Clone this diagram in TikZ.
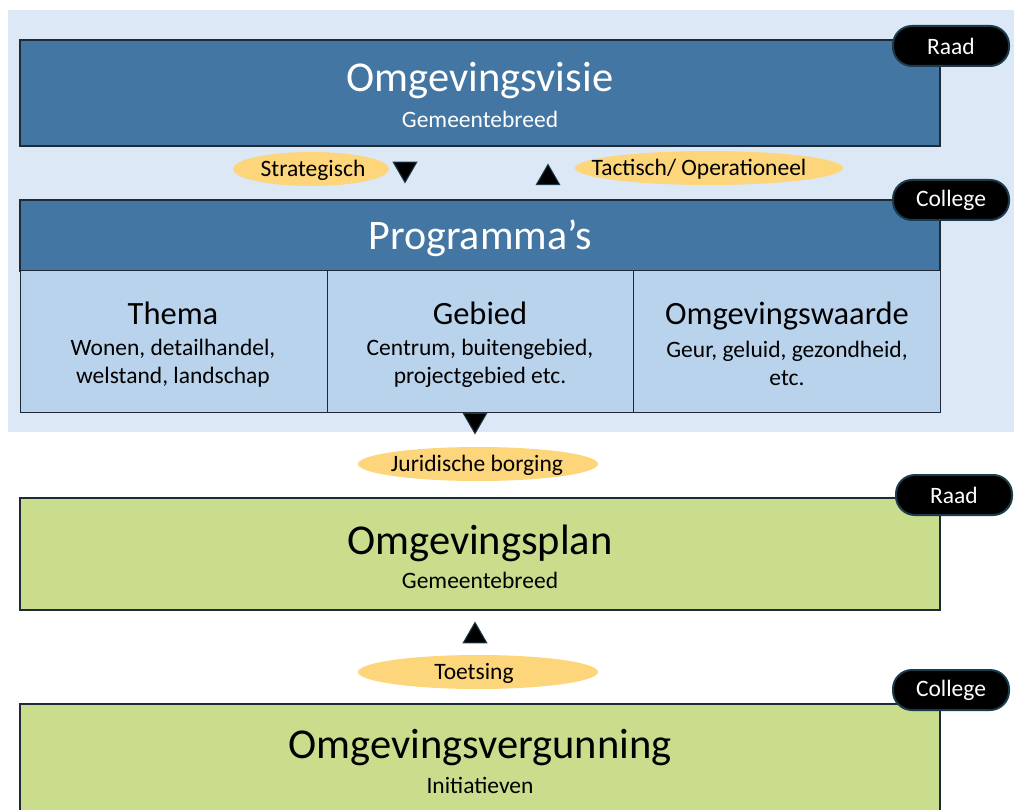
\documentclass[tikz,border=0pt]{standalone}
\usepackage{fontspec}
\setmainfont{Carlito}
\usetikzlibrary{shapes.geometric}
\definecolor{bgblue}{HTML}{DCE8F5}
\definecolor{hdrblue}{HTML}{4376A2}
\definecolor{cellblue}{HTML}{B9D3EC}
\definecolor{plangreen}{HTML}{C9DD8D}
\definecolor{pill}{HTML}{FDD57B}
\definecolor{edge}{HTML}{1E2A36}
\definecolor{badgeedge}{HTML}{1B3A4B}
\tikzset{
  hdr/.style={draw=edge, line width=1.2pt, fill=hdrblue},
  cell/.style={draw=edge, line width=1pt, fill=cellblue},
  grn/.style={draw=edge, line width=1.2pt, fill=plangreen},
  pillfill/.style={fill=pill},
  lbl/.style={inner sep=0pt, font=\fontsize{23.5}{26}\selectfont},
  badge/.style={rounded corners=19pt, fill=black, draw=badgeedge, line width=2pt, minimum width=116pt, minimum height=40pt, text=white, font=\fontsize{23.5}{26}\selectfont, inner sep=0pt},
  tri/.style={regular polygon, regular polygon sides=3, fill=black, draw=badgeedge, line width=1pt, minimum size=27pt, inner sep=0pt},
  big/.style={font=\fontsize{42.5}{46}\selectfont},
  mid/.style={font=\fontsize{32.5}{36}\selectfont, text height=22pt, text depth=7pt},
  small/.style={font=\fontsize{23.5}{28}\selectfont, align=center}
}
\begin{document}
\begin{tikzpicture}[x=1pt,y=-1pt]
\useasboundingbox (0,0) rectangle (1014,810);
\fill[bgblue] (8,10) rectangle (1014,432);
% Omgevingsvisie
\draw[hdr] (20,40) rectangle (940,146);
\node[big, text=white] (visie) at (480,81) {Omgevingsvisie};
\node[small, text=white] (visiesub) at (480,119) {Gemeentebreed};
\node[badge] (raad1) at (951,46) {Raad};
% labels between
\fill[pillfill] (311,169) ellipse (78 and 17);
\node[lbl] (strat) at (313,170) {Strategisch};
\node[tri, shape border rotate=180] (tdown1) at (405,169) {};
\node[tri] (tup1) at (548,178) {};
\fill[pillfill] (709,168) ellipse (134 and 17);
\node[lbl] (tact) at (699,169) {Tactisch/ Operationeel};
% Programma's
\draw[hdr] (20,200) rectangle (940,271);
\node[font=\fontsize{42}{46}\selectfont, text=white] (prog) at (480,238) {Programma’s};
\node[badge] (college1) at (951,200) {College};
\draw[cell] (20,271) rectangle (327,412);
\draw[cell] (327,271) rectangle (633,412);
\draw[cell] (633,271) rectangle (940,412);
\node[mid] (thema) at (173,317) {Thema};
\node[small] (themasub) at (173,363) {Wonen, detailhandel,\\welstand, landschap};
\node[mid] (gebied) at (480,317) {Gebied};
\node[small] (gebiedsub) at (480,363) {Centrum, buitengebied,\\projectgebied etc.};
\node[mid] (waarde) at (787,317) {Omgevingswaarde};
\node[small] (waardesub) at (787,363) {Geur, geluid, gezondheid,\\etc.};
\node[tri, shape border rotate=180] (tdown2) at (475,420) {};
\fill[pillfill] (478,464) ellipse (120 and 17);
\node[lbl] (jur) at (477,465) {Juridische borging};
% Omgevingsplan
\draw[grn] (20,498) rectangle (940,610);
\node[big] (plan) at (480,543) {Omgevingsplan};
\node[small] (plansub) at (480,580) {Gemeentebreed};
\node[badge] (raad2) at (954,495) {Raad};
\node[tri] (tup2) at (475,636) {};
\fill[pillfill] (478,672) ellipse (120 and 17);
\node[lbl] (toets) at (474,673) {Toetsing};
% Omgevingsvergunning
\draw[grn] (20,704) rectangle (940,830);
\node[big] (verg) at (480,748) {Omgevingsvergunning};
\node[small] (vergsub) at (480,785) {Initiatieven};
\node[badge] (college2) at (951,690) {College};
\end{tikzpicture}
\end{document}
